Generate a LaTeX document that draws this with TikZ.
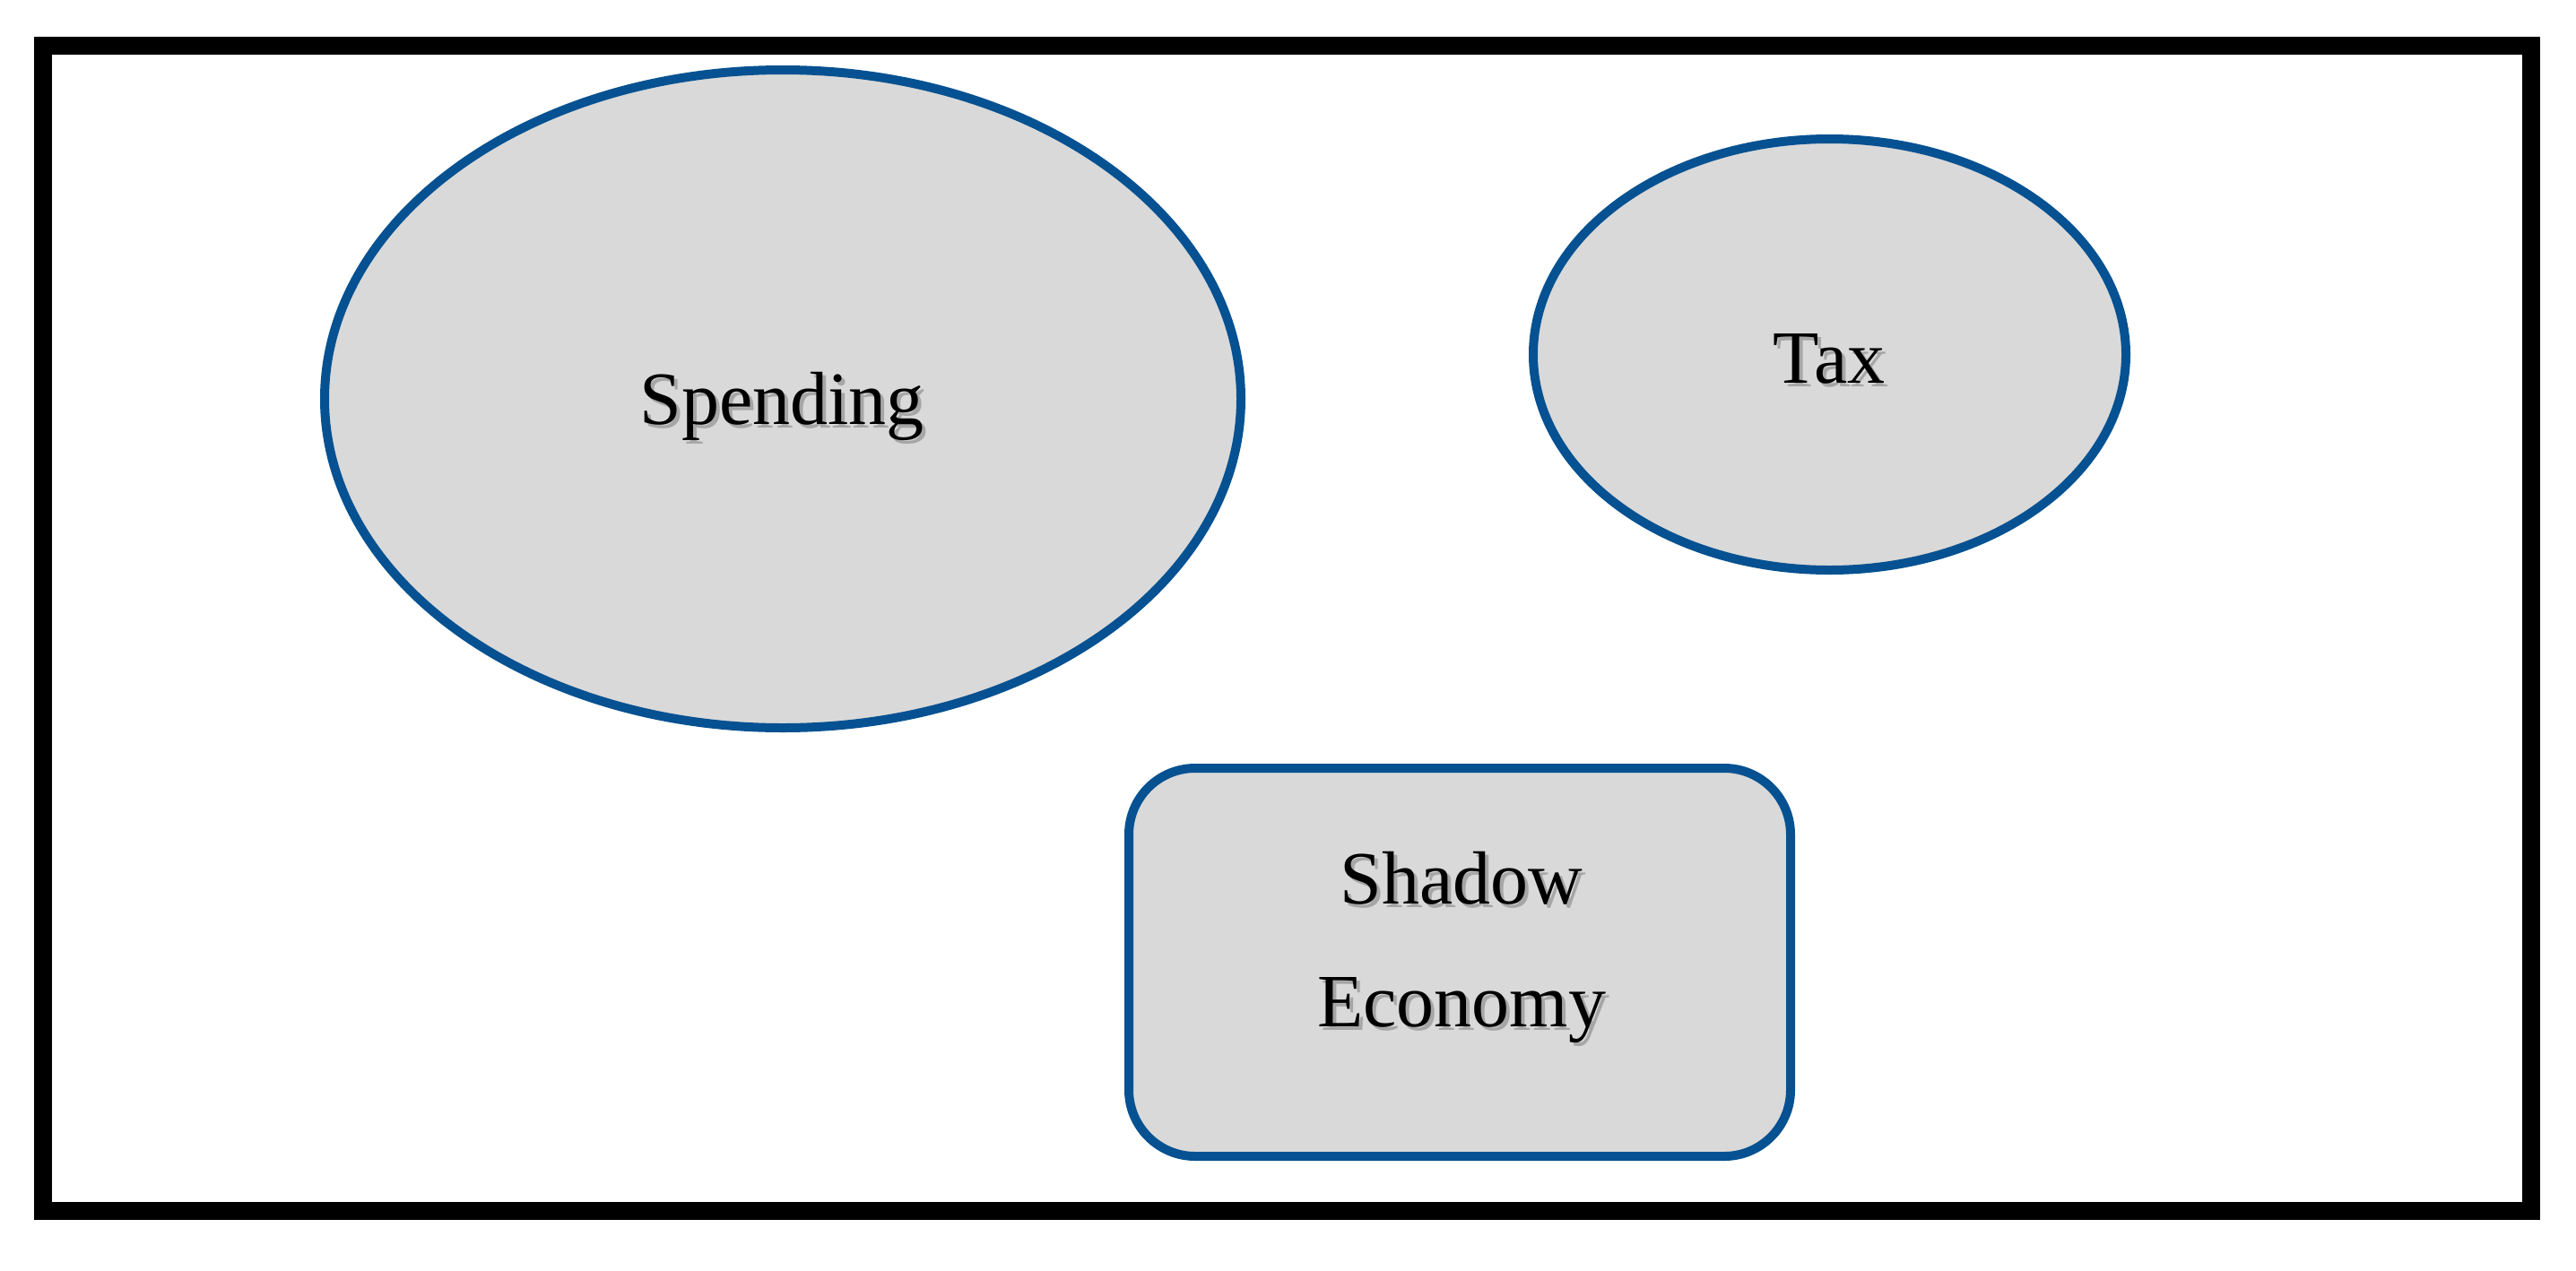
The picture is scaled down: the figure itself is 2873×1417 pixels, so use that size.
\documentclass[tikz,border=0pt]{standalone}
\usepackage{fontspec}
\setmainfont{Liberation Serif}
\usetikzlibrary{shapes.geometric}
\definecolor{edgeblue}{RGB}{5,81,145}
\definecolor{fillgray}{RGB}{217,217,217}
\begin{document}
\begin{tikzpicture}[x=1pt,y=-1pt,
  blob/.style={draw=edgeblue, fill=fillgray, line width=10pt, inner sep=0pt, outer sep=0pt},
  framebox/.style={draw=black, line width=20pt, inner sep=0pt, outer sep=0pt, rectangle},
  lbl/.style={anchor=base, inner sep=0pt, outer sep=0pt, font=\fontsize{84}{100}\selectfont},
  lblshadow/.style={lbl, text=black!35}]
\useasboundingbox (0,0) rectangle (2873,1417);
\node[framebox, minimum width=2775.5pt, minimum height=1300pt] (frame) at (1435.25,701) {};
\node[blob, ellipse, minimum width=1022pt, minimum height=734pt] (spending) at (873,445) {};
\node[blob, ellipse, minimum width=661pt, minimum height=481pt] (tax) at (2040.5,395.5) {};
\node[blob, rectangle, rounded corners=74pt, minimum width=738pt, minimum height=433pt] (shadow) at (1628,1073.5) {};
% text shadows
\node[lblshadow] (spendingsh) at (876,477) {Spending};
\node[lblshadow] (taxsh) at (2044,431) {Tax};
\node[lblshadow] (shadow1sh) at (1634,1012) {Shadow};
\node[lblshadow] (shadow2sh) at (1634,1149) {Economy};
% text
\node[lbl] (spendingtxt) at (872,473) {Spending};
\node[lbl] (taxtxt) at (2040,427) {Tax};
\node[lbl] (shadow1) at (1630,1008) {Shadow};
\node[lbl] (shadow2) at (1630,1145) {Economy};
\end{tikzpicture}
\end{document}
